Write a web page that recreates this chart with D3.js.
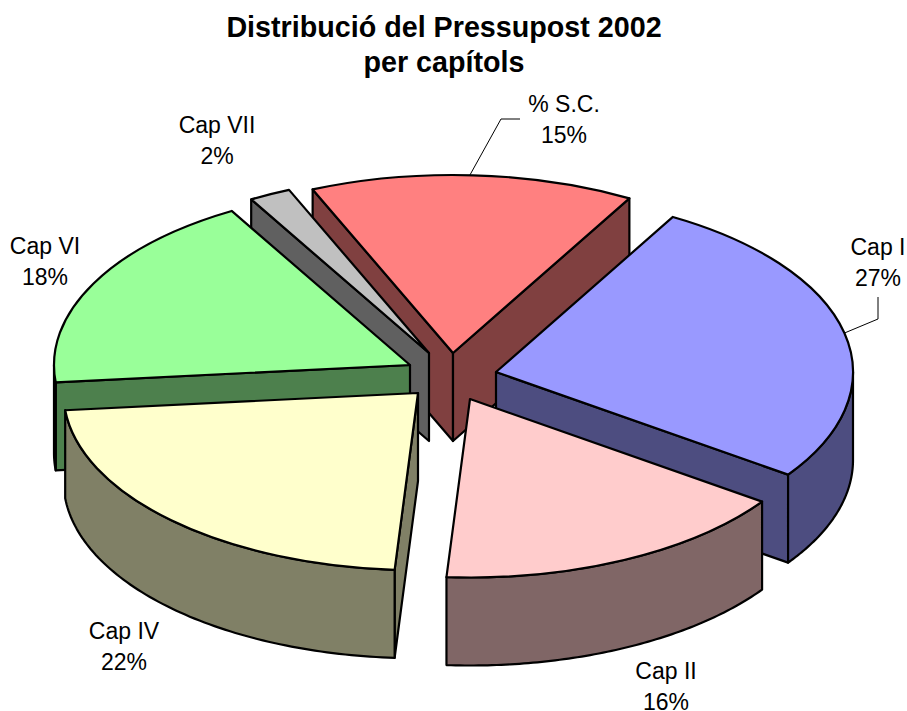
<!DOCTYPE html>
<html>
<head>
<meta charset="utf-8">
<script src="https://cdn.jsdelivr.net/npm/d3@7/dist/d3.min.js"></script>
<style>
html,body{margin:0;padding:0;background:#fff}
svg{display:block}
text{font-family:"Liberation Sans",Arial,sans-serif;fill:#000}
</style>
</head>
<body>
<svg id="chart" width="907" height="711"></svg>
<script>
// Data
const categories = ["Cap I", "Cap II", "Cap IV", "Cap VI", "Cap VII", "% S.C."];
const values = [26.5, 16.3, 22.4, 18.2, 1.9, 14.7];
const titleLines = ["Distribució del Pressupost 2002", "per capítols"];

// Styles and layout (per category)
const topColors = ["#9999FF", "#FFCCCC", "#FFFFCC", "#99FF99", "#C0C0C0", "#FF8080"];
const explodeX = [51, 25, -27, -35, -16, 8];
const explodeY = [-2, 25, 19, -9, -21, -21];
const radii = [357, 357, 354.5, 356, 355, 356];
const labelX = [878, 666, 124, 45, 217, 564];
const labelY = [255, 679, 639, 254, 133, 112];
const drawOrder = [5, 4, 3, 0, 2, 1];
const leaders = [
  {slice: 0, frac: 0.5, via: [[878, 319], [878, 297]]},
  {slice: 5, frac: 0.49, via: [[501, 119], [520, 119]]}
];

const cx = 445, cy = 374, tilt = 0.5, depth = 88;
const startDeg = 29.7;
const TAU = Math.PI * 2;

const svg = d3.select("#chart");

const pie = d3.pie().sort(null)
  .startAngle(startDeg * Math.PI / 180)
  .endAngle(startDeg * Math.PI / 180 + TAU);
const slices = pie(values).map((d, i) => ({
  ...d, i,
  rx: radii[i],
  ax: cx + explodeX[i],
  ay: cy + explodeY[i]
}));

const rim = (s, a, dz = 0) => [s.ax + s.rx * Math.sin(a), s.ay - s.rx * tilt * Math.cos(a) + dz];
const line = d3.line();
const dark = c => { const r = d3.rgb(c); return d3.rgb(r.r / 2, r.g / 2, r.b / 2).formatHex(); };

const sw = 2.2;
const g = svg.append("g").attr("stroke", "#000").attr("stroke-width", sw).attr("stroke-linejoin", "round");

drawOrder.forEach(i => {
  const s = slices[i];
  const side = dark(topColors[i]);
  const wall = a => line([[s.ax, s.ay], rim(s, a), rim(s, a, depth), [s.ax, s.ay + depth]]) + "Z";
  const sg = g.append("g").attr("class", "slice");
  // radial walls: only those facing the viewer
  if (Math.sin(s.startAngle) < 0) sg.append("path").attr("d", wall(s.startAngle)).attr("fill", side);
  if (Math.sin(s.endAngle) > 0) sg.append("path").attr("d", wall(s.endAngle)).attr("fill", side);
  // outer wall: visible on the front half of the ellipse only
  const ranges = [[Math.PI / 2, Math.PI * 1.5], [Math.PI * 2.5, Math.PI * 3.5]];
  ranges.forEach(([lo, hi]) => {
    const a0 = Math.max(lo, s.startAngle), a1 = Math.min(hi, s.endAngle);
    if (a1 <= a0) return;
    const pts = d3.range(0, 81).map(k => a0 + (a1 - a0) * k / 80);
    const upper = pts.map(a => rim(s, a));
    const lower = pts.slice().reverse().map(a => rim(s, a, depth));
    sg.append("path").attr("d", line(upper.concat(lower)) + "Z").attr("fill", side);
  });
  // top face
  sg.append("path")
    .attr("transform", `translate(${s.ax},${s.ay}) scale(1,${tilt})`)
    .attr("d", d3.arc().innerRadius(0).outerRadius(s.rx)(s))
    .attr("fill", topColors[i])
    .attr("vector-effect", "non-scaling-stroke");
});

// Leader lines
svg.append("g").selectAll("path").data(leaders).join("path")
  .attr("d", l => {
    const s = slices[l.slice];
    const a = s.startAngle + (s.endAngle - s.startAngle) * l.frac;
    return line([rim(s, a), ...l.via]);
  })
  .attr("fill", "none").attr("stroke", "#000").attr("stroke-width", 1);

// Labels
const labels = svg.append("g").selectAll("text").data(slices).join("text")
  .attr("text-anchor", "middle")
  .attr("font-size", 23);
labels.append("tspan").attr("x", d => labelX[d.i]).attr("y", d => labelY[d.i])
  .text(d => categories[d.i]);
labels.append("tspan").attr("x", d => labelX[d.i]).attr("y", d => labelY[d.i] + 31)
  .text(d => Math.round(d.value) + "%");

// Title
svg.append("g").selectAll("text").data(titleLines).join("text")
  .attr("x", 444).attr("y", (d, i) => 37 + i * 35)
  .attr("text-anchor", "middle")
  .attr("font-size", 28.7).attr("font-weight", "bold")
  .text(d => d);
</script>
</body>
</html>
